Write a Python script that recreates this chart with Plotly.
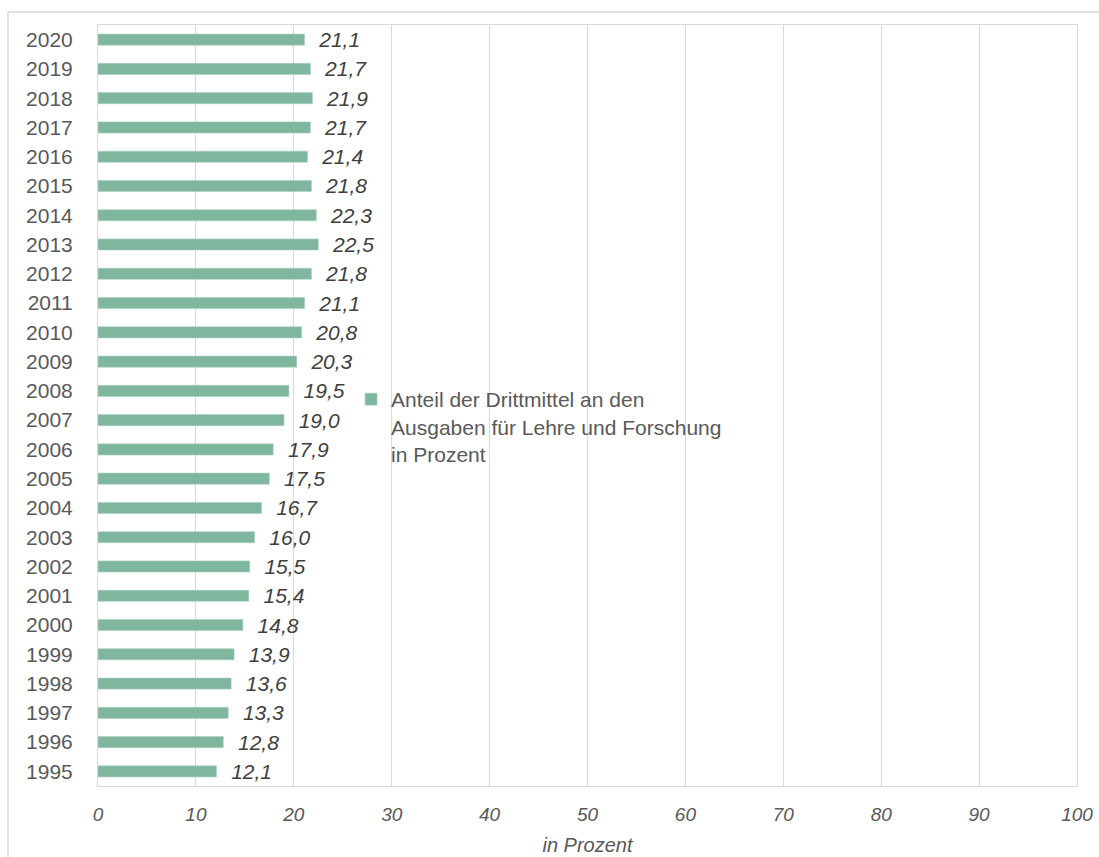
import plotly.graph_objects as go

years = [str(y) for y in range(1995, 2021)]
values = [12.1, 12.8, 13.3, 13.6, 13.9, 14.8, 15.4, 15.5, 16.0, 16.7, 17.5, 17.9, 19.0,
          19.5, 20.3, 20.8, 21.1, 21.8, 22.5, 22.3, 21.8, 21.4, 21.7, 21.9, 21.7, 21.1]
series_name = "Anteil der Drittmittel an den<br>Ausgaben für Lehre und Forschung<br>in Prozent"
x_ticks = list(range(0, 101, 10))

FONT = "Liberation Sans, Arial, sans-serif"
GRID = "#d9d9d9"
TXT = "#595959"

fig = go.Figure()
fig.add_trace(go.Bar(
    y=years, x=values, orientation="h", name=series_name,
    marker=dict(color="#7fb69e", line=dict(color="#a9d0bf", width=0.6)),
    width=0.38,
    text=values, texttemplate="  %{x:.1f}", textposition="outside",
    constraintext="none",
    textfont=dict(family=FONT, size=21, color="#404040", style="italic"),
    cliponaxis=False, showlegend=True,
))

fig.update_layout(
    width=1099, height=857,
    margin=dict(l=98, r=22, t=25, b=71, autoexpand=False),
    paper_bgcolor="white", plot_bgcolor="white",
    separators=", ",
    font=dict(family=FONT, size=19, color=TXT),
    showlegend=True,
    legend=dict(x=0.2585, y=0.5348, xanchor="left", yanchor="top",
                valign="top", bgcolor="rgba(0,0,0,0)",
                font=dict(family=FONT, size=21, color=TXT),
                tracegroupgap=0, itemwidth=30),
    xaxis=dict(range=[0, 100], tickvals=x_ticks, showgrid=True, gridcolor=GRID, gridwidth=1,
               zeroline=False, showline=True, linecolor=GRID, linewidth=1, mirror=True,
               tickfont=dict(family=FONT, size=19, color=TXT, style="italic"),
               ticks="", ticklabelstandoff=11, automargin=False,
               title=dict(text="in Prozent", standoff=14,
                          font=dict(family=FONT, size=20, color=TXT, style="italic"))),
    yaxis=dict(categoryorder="array", categoryarray=years, showgrid=False, zeroline=False,
               showline=True, linecolor=GRID, linewidth=1, mirror=True,
               ticks="", ticklabelstandoff=20, automargin=False,
               tickfont=dict(family=FONT, size=21, color=TXT)),
    shapes=[dict(type="rect", xref="paper", yref="paper",
                 x0=(8 - 98) / 979, x1=(1115 - 98) / 979,
                 y0=(786 - 880) / 761, y1=1 + (25 - 12) / 761,
                 line=dict(color=GRID, width=1.5), layer="below")],
)

fig.write_html("out.html")
